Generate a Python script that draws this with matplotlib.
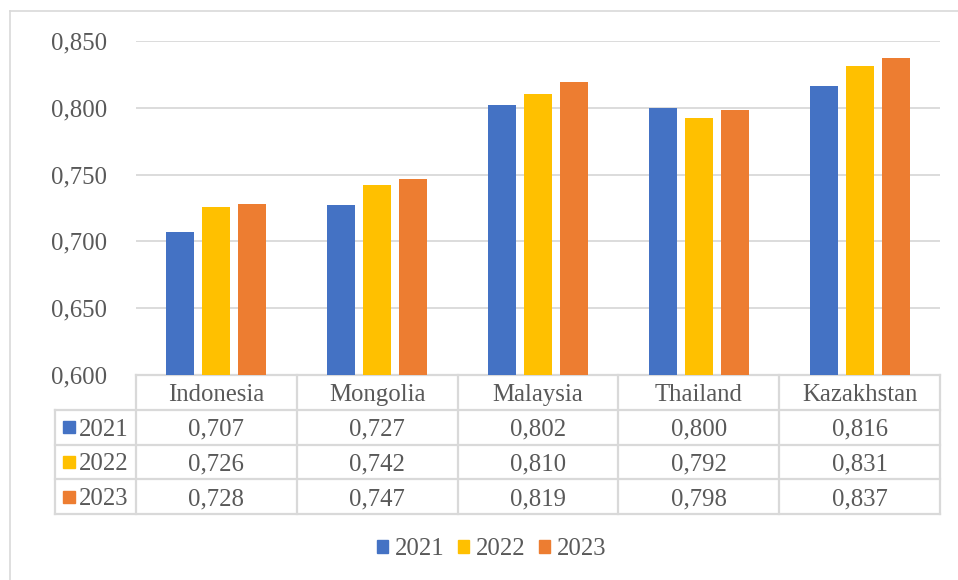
import numpy as np
import matplotlib.pyplot as plt
from matplotlib.patches import Rectangle, Patch
from matplotlib.lines import Line2D
from matplotlib.ticker import FuncFormatter

# Data
countries = ['Indonesia', 'Mongolia', 'Malaysia', 'Thailand', 'Kazakhstan']
years = ['2021', '2022', '2023']
v2021 = [0.707, 0.727, 0.802, 0.800, 0.816]
v2022 = [0.726, 0.742, 0.810, 0.792, 0.831]
v2023 = [0.728, 0.747, 0.819, 0.798, 0.837]
series = [v2021, v2022, v2023]
colors = ['#4472C4', '#FFC000', '#ED7D31']

txt = '#595959'
grid = '#d9d9d9'
plt.rcParams['font.family'] = ['Liberation Serif', 'DejaVu Serif']
fs = 17.8

W, H = 958, 580
fig = plt.figure(figsize=(W / 100, H / 100), dpi=100)

# chart border (top and left only visible)
fig.add_artist(Line2D([10 / W, 10 / W], [0, 1 - 11 / H], color=grid, lw=1.2))
fig.add_artist(Line2D([10 / W, 1], [1 - 11 / H, 1 - 11 / H], color=grid, lw=1.2))

left, right, top, bottom = 136, 940, 41, 375
ax = fig.add_axes([left / W, 1 - bottom / H, (right - left) / W, (bottom - top) / H])

x = np.arange(len(countries))
bw = 0.174
step = 0.224
for i, vals in enumerate(series):
    ax.bar(x + (i - 1) * step, vals, width=bw, color=colors[i], zorder=3)

ax.set_xlim(-0.5, len(countries) - 0.5)
ax.set_ylim(0.6, 0.85)
ax.set_yticks(np.arange(0.6, 0.851, 0.05))
ax.yaxis.set_major_formatter(FuncFormatter(lambda v, p: f'{v:.3f}'.replace('.', ',')))
ax.tick_params(axis='y', length=0, pad=21, labelsize=fs, labelcolor=txt)
ax.tick_params(axis='x', length=0, labelbottom=False)
ax.grid(axis='y', color=grid, lw=1.3, zorder=0)
for s in ax.spines.values():
    s.set_visible(False)

# data table below the axes (x in data units, y in axes fraction)
tr = ax.get_xaxis_transform()
rh = 34.8 / (bottom - top)
ncol = len(countries)
lc = dict(color=grid, lw=1.6, clip_on=False, transform=tr)
x_lab = -0.5 - 81 / 160.8
# horizontal lines
ax.add_line(Line2D([-0.5, ncol - 0.5], [0, 0], **lc))
for r in range(1, 5):
    ax.add_line(Line2D([x_lab, ncol - 0.5], [-r * rh, -r * rh], **lc))
# vertical lines
ax.add_line(Line2D([x_lab, x_lab], [-rh, -4 * rh], **lc))
for c in range(ncol + 1):
    ax.add_line(Line2D([c - 0.5, c - 0.5], [0, -4 * rh], **lc))

for c, name in enumerate(countries):
    ax.text(c, -0.5 * rh, name, transform=tr, ha='center', va='center_baseline',
            fontsize=fs, color=txt)
for r, vals in enumerate(series):
    yc = -(r + 1.5) * rh
    for c, v in enumerate(vals):
        ax.text(c, yc, f'{v:.3f}'.replace('.', ','), transform=tr, ha='center',
                va='center_baseline', fontsize=fs, color=txt)
    sq = 12 / 160.8
    ax.add_patch(Rectangle((-0.5 - 73 / 160.8, yc - 6 / (bottom - top)), sq,
                           12 / (bottom - top), transform=tr, color=colors[r],
                           clip_on=False))
    ax.text(-0.5 - 57 / 160.8, yc, years[r], transform=tr, ha='left',
            va='center_baseline', fontsize=fs, color=txt)

handles = [Patch(color=c) for c in colors]
fig.legend(handles, years, loc='center', bbox_to_anchor=(492 / W, 1 - 549 / H),
           ncol=3, frameon=False, fontsize=fs, labelcolor=txt,
           handlelength=0.42, handleheight=0.42, handletextpad=0.3, columnspacing=0.55)

fig.savefig('out.png', dpi=100)
